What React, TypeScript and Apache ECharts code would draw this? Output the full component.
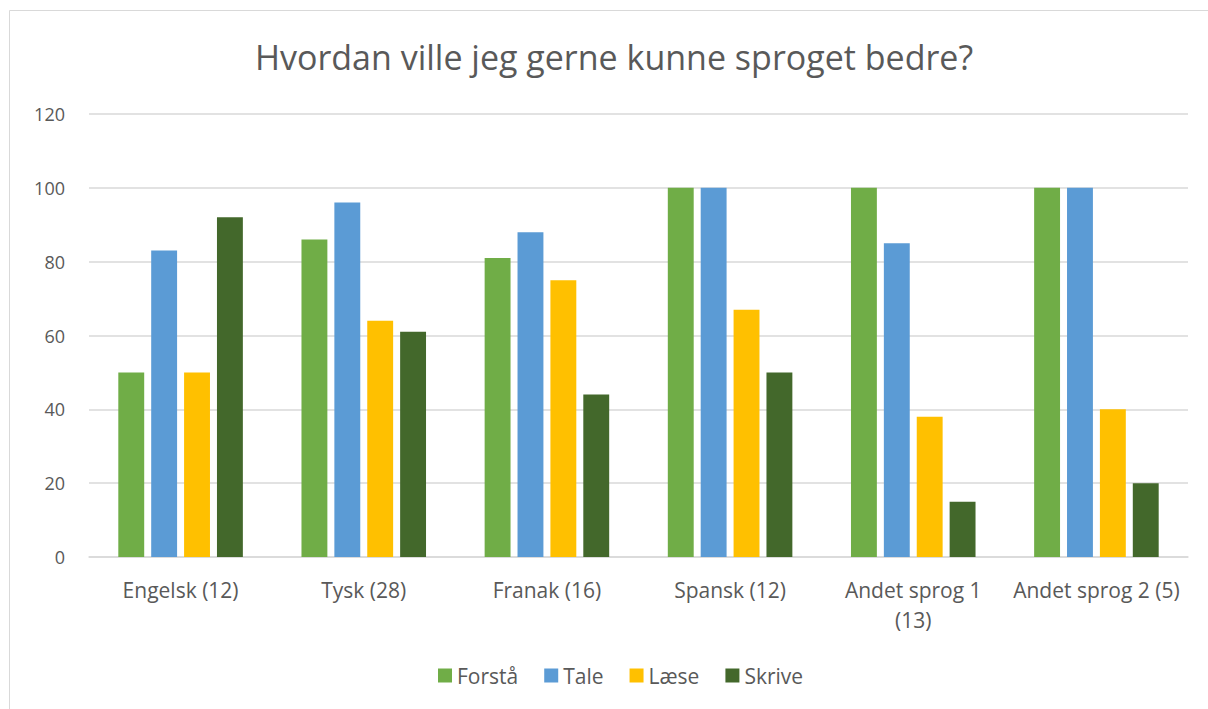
import React, { useEffect, useRef } from "react";
import * as echarts from "echarts";

const categories = ["Engelsk (12)", "Tysk (28)", "Franak (16)", "Spansk (12)", "Andet sprog 1 (13)", "Andet sprog 2 (5)"];
const seriesNames = ["Forstå", "Tale", "Læse", "Skrive"];
const forstaa = [50, 86, 81, 100, 100, 100];
const tale = [83, 96, 88, 100, 85, 100];
const laese = [50, 64, 75, 67, 38, 40];
const skrive = [92, 61, 44, 50, 15, 20];
const yTicks = [0, 20, 40, 60, 80, 100, 120];
const colors = ["#70AD47", "#5B9BD5", "#FFC000", "#43682B"];

const FONT = "'Open Sans', sans-serif";
const TEXT = "#595959";

export default function App() {
  const ref = useRef<HTMLDivElement>(null);
  useEffect(() => {
    if (!ref.current) return;
    const chart = echarts.init(ref.current, undefined, { renderer: "svg" });
    const data = [forstaa, tale, laese, skrive];
    chart.setOption({
      animation: false,
      backgroundColor: "#ffffff",
      textStyle: { fontFamily: FONT },
      graphic: [
        {
          type: "rect",
          shape: { x: 9.5, y: 10.5, width: 1300, height: 800 },
          style: { fill: "none", stroke: "#D9D9D9", lineWidth: 1 },
          silent: true,
        },
        {
          type: "text",
          x: 614,
          y: 57,
          style: {
            text: "Hvordan ville jeg gerne kunne sproget bedre?",
            fontFamily: FONT,
            fontSize: 34,
            fill: TEXT,
            align: "center",
            verticalAlign: "middle",
          },
        },
      ],
      legend: {
        data: seriesNames,
        top: 660,
        left: 433,
        itemWidth: 14,
        itemHeight: 14,
        itemGap: 26,
        icon: "rect",
        textStyle: { color: TEXT, fontSize: 21, fontFamily: FONT },
      },
      grid: { left: 89, right: 20, top: 114, bottom: 152, outerBoundsMode: "none" },
      xAxis: {
        type: "category",
        data: categories,
        axisLine: { lineStyle: { color: "#D9D9D9", width: 1.5 } },
        axisTick: { show: false },
        axisLabel: {
          color: TEXT,
          fontSize: 21,
          fontFamily: FONT,
          margin: 18,
          lineHeight: 30,
          interval: 0,
          formatter: (v: string) => {
            if (v.length > 17) {
              const i = v.lastIndexOf(" ");
              return v.slice(0, i) + "\n" + v.slice(i + 1);
            }
            return v;
          },
        },
      },
      yAxis: {
        type: "value",
        min: yTicks[0],
        max: yTicks[yTicks.length - 1],
        interval: 20,
        axisLine: { show: false },
        axisTick: { show: false },
        axisLabel: { color: TEXT, fontSize: 18, fontFamily: FONT, margin: 24 },
        splitLine: { lineStyle: { color: "#D9D9D9", width: 1.5 } },
      },
      series: seriesNames.map((name, i) => ({
        name,
        type: "bar",
        data: data[i],
        barGap: "27%",
        barCategoryGap: "32%",
        itemStyle: { color: colors[i] },
      })),
    });
    return () => chart.dispose();
  }, []);
  return <div ref={ref} style={{ width: 1208, height: 709, position: "absolute", left: 0, top: 0 }} />;
}
